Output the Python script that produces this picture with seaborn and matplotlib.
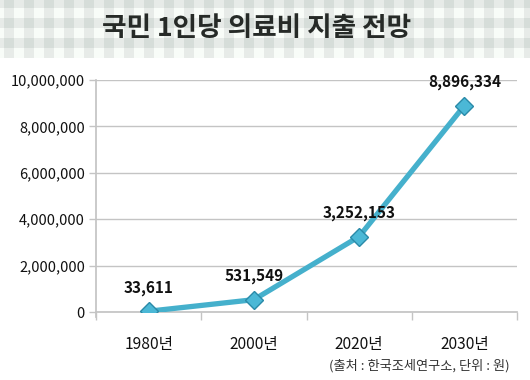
import numpy as np
import pandas as pd
import matplotlib
matplotlib.use("Agg")
import matplotlib.pyplot as plt
import seaborn as sns
from matplotlib.ticker import FuncFormatter

title = "국민 1인당 의료비 지출 전망"
years = ["1980년", "2000년", "2020년", "2030년"]
values = [33611, 531549, 3252153, 8896334]
yticks = [0, 2000000, 4000000, 6000000, 8000000, 10000000]
source = "(출처 : 한국조세연구소, 단위 : 원)"

sns.set_theme(style="white")
plt.rcParams['font.family'] = ['Noto Sans CJK KR', 'DejaVu Sans']

W, H = 530, 380
fig = plt.figure(figsize=(W / 100, H / 100), dpi=100)
fig.patch.set_facecolor("white")

# gingham header
hh = 58
hax = fig.add_axes([0, 1 - hh / H, 1, hh / H])
xs = np.arange(W)
ys = np.arange(hh)
vert = ((xs - 4) % 20) < 10
horz = ((ys + 2) % 20) < 10
cnt = horz[:, None].astype(int) + vert[None, :].astype(int)
cols = np.array([[0.973, 0.992, 0.976], [0.906, 0.925, 0.910], [0.843, 0.867, 0.851]])
img = cols[cnt]
hax.imshow(img, aspect="auto", interpolation="nearest", extent=[0, W, hh, 0])
hax.set_axis_off()
hax.text(257, 28, title, ha="center", va="center", fontsize=19.2, fontweight="bold",
         color="#262a27")

# main chart
ax = fig.add_axes([96 / W, 1 - 312 / H, (517 - 96) / W, (312 - 80) / H])
df = pd.DataFrame({"year": years, "value": values})
df["x"] = np.arange(len(years))
sns.lineplot(data=df, x="x", y="value", ax=ax, color="#45b0cc", linewidth=3.8,
             marker="D", markersize=9.5, markerfacecolor="#4bb8d6",
             markeredgecolor="#2a8aa8", markeredgewidth=1.0, zorder=3)

ax.set_xlim(-0.5, len(years) - 0.5)
ax.set_ylim(0, 10000000)
ax.set_yticks(yticks)
ax.yaxis.set_major_formatter(FuncFormatter(lambda v, p: f"{int(v):,}"))
ax.set_xticks(df["x"])
ax.set_xticklabels(years)
ax.set_xlabel("")
ax.set_ylabel("")
ax.grid(axis="y", color="#c4c4c4", linewidth=1.0)
ax.set_axisbelow(True)
for s in ["top", "right"]:
    ax.spines[s].set_visible(False)
ax.spines["left"].set_color("#c4c4c4")
ax.spines["bottom"].set_color("#c4c4c4")
ax.spines["left"].set_bounds(-220000, 10000000)
ax.tick_params(axis="y", length=5, color="#c4c4c4", width=1, labelsize=10.5,
               labelcolor="#111111", pad=3, left=True)
ax.tick_params(axis="x", length=0, labelsize=11.2, labelcolor="#111111", pad=17)
# minor ticks at category boundaries
ax.set_xticks(np.arange(-0.5, len(years), 1.0), minor=True)
ax.tick_params(axis="x", which="minor", length=6, color="#c4c4c4", width=1, bottom=True)

for i, v in enumerate(values):
    ax.annotate(f"{v:,}", (i, v), xytext=(0, 17), textcoords="offset points",
                ha="center", va="center", fontsize=11, fontweight="bold", color="#111111")

fig.text(510 / W, 1 - 366 / H, source, ha="right", va="center", fontsize=9.5, color="#333333")

fig.savefig("out.png", dpi=100)
